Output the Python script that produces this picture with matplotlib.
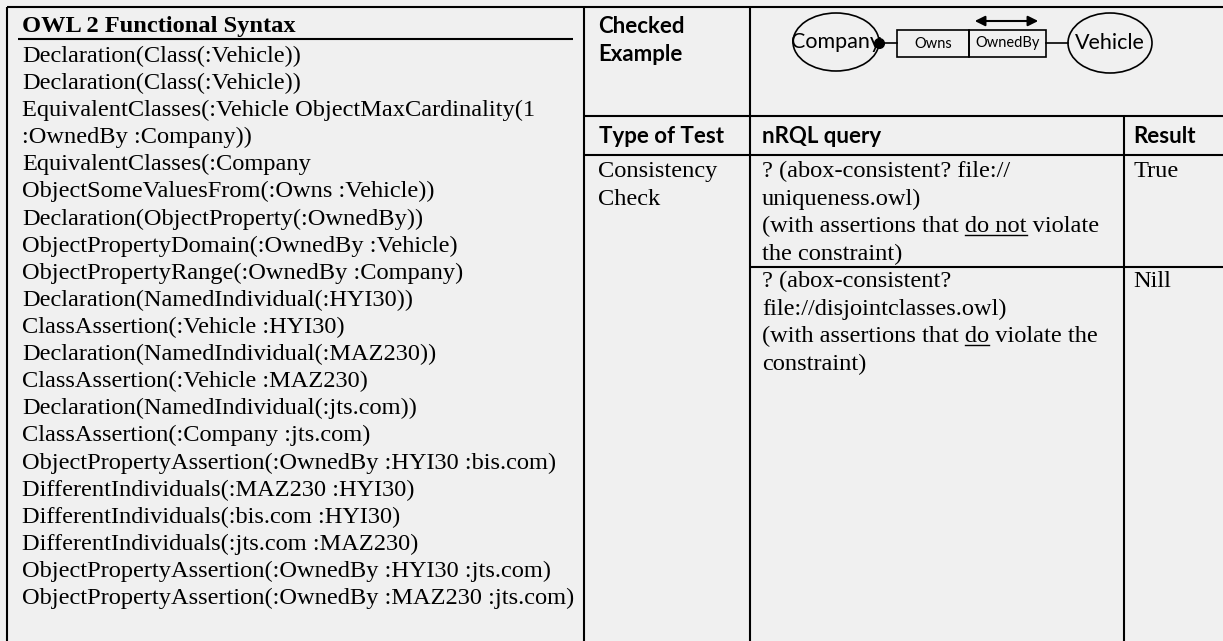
import matplotlib.pyplot as plt
from matplotlib.patches import Ellipse, Rectangle, FancyArrowPatch

# table content
owl_header = "OWL 2 Functional Syntax"
owl_lines = [
    "Declaration(Class(:Vehicle))",
    "Declaration(Class(:Vehicle))",
    "EquivalentClasses(:Vehicle ObjectMaxCardinality(1",
    ":OwnedBy :Company))",
    "EquivalentClasses(:Company",
    "ObjectSomeValuesFrom(:Owns :Vehicle))",
    "Declaration(ObjectProperty(:OwnedBy))",
    "ObjectPropertyDomain(:OwnedBy :Vehicle)",
    "ObjectPropertyRange(:OwnedBy :Company)",
    "Declaration(NamedIndividual(:HYI30))",
    "ClassAssertion(:Vehicle :HYI30)",
    "Declaration(NamedIndividual(:MAZ230))",
    "ClassAssertion(:Vehicle :MAZ230)",
    "Declaration(NamedIndividual(:jts.com))",
    "ClassAssertion(:Company :jts.com)",
    "ObjectPropertyAssertion(:OwnedBy :HYI30 :bis.com)",
    "DifferentIndividuals(:MAZ230 :HYI30)",
    "DifferentIndividuals(:bis.com :HYI30)",
    "DifferentIndividuals(:jts.com :MAZ230)",
    "ObjectPropertyAssertion(:OwnedBy :HYI30 :jts.com)",
    "ObjectPropertyAssertion(:OwnedBy :MAZ230 :jts.com)",
]
checked_label = ["Checked", "Example"]
col_headers = ["Type of Test", "nRQL query", "Result"]
test_type = ["Consistency", "Check"]
# (prefix, underlined part, suffix)
query_ok = [
    ("? (abox-consistent? file://", "", ""),
    ("uniqueness.owl)", "", ""),
    ("(with assertions that ", "do not", " violate"),
    ("the constraint)", "", ""),
]
query_bad = [
    ("? (abox-consistent?", "", ""),
    ("file://disjointclasses.owl)", "", ""),
    ("(with assertions that ", "do", " violate the"),
    ("constraint)", "", ""),
]
results = ["True", "Nill"]
diagram_classes = ["Company", "Vehicle"]
diagram_roles = ["Owns", "OwnedBy"]

SERIF = "Liberation Serif"
SANS = "Lato"
FS = 17.6
LW = 1.5

fig = plt.figure(figsize=(12.23, 6.41), dpi=100, facecolor="#f0f0f0")
ax = fig.add_axes([0, 0, 1, 1])
ax.set_xlim(0, 1223)
ax.set_ylim(641, 0)
ax.axis("off")
ax.set_facecolor("#f0f0f0")
renderer = fig.canvas.get_renderer()


def hline(y, x0, x1):
    ax.plot([x0, x1], [y, y], color="black", lw=LW, solid_capstyle="butt")


def vline(x, y0, y1):
    ax.plot([x, x], [y0, y1], color="black", lw=LW, solid_capstyle="butt")


def width(s, **kw):
    t = ax.text(0, 0, s, **kw)
    bb = t.get_window_extent(renderer)
    t.remove()
    return bb.width


# grid lines
hline(7, 7, 1223)
vline(7, 7, 641)
hline(39, 18, 573)
vline(584, 7, 641)
vline(750, 7, 641)
hline(116, 584, 1223)
hline(155, 584, 1223)
vline(1124, 116, 641)
hline(267, 750, 1223)

# left column
ax.text(22, 32, owl_header, family=SERIF, fontsize=FS, fontweight="bold")
for i, line in enumerate(owl_lines):
    ax.text(22, 62 + 27.1 * i, line, family=SERIF, fontsize=FS)

# bold headers
hdr = dict(family=SANS, fontsize=16, fontweight="bold")
ax.text(598, 33, checked_label[0], **hdr)
ax.text(598, 61, checked_label[1], **hdr)
ax.text(599, 143, col_headers[0], **hdr)
ax.text(762, 143, col_headers[1], **hdr)
ax.text(1133, 143, col_headers[2], **hdr)

# body
ax.text(598, 177, test_type[0], family=SERIF, fontsize=FS)
ax.text(598, 204.7, test_type[1], family=SERIF, fontsize=FS)
ax.text(1133, 177, results[0], family=SERIF, fontsize=FS)
ax.text(1133, 287, results[1], family=SERIF, fontsize=FS)

serif = dict(family=SERIF, fontsize=FS)
for base, rows in [(177, query_ok), (287, query_bad)]:
    for i, (pre, ul, post) in enumerate(rows):
        y = base + 27.6 * i
        ax.text(762, y, pre + ul + post, **serif)
        if ul:
            x0 = 762 + width(pre + ul[0], **serif) - width(ul[0], **serif)
            x1 = 762 + width(pre + ul, **serif)
            ax.plot([x0, x1], [y + 3, y + 3], color="black", lw=1.0)

# diagram
for (cx, cy, w, h), name in zip([(836, 42, 86, 58), (1110, 43, 84, 60)], diagram_classes):
    ax.add_patch(Ellipse((cx, cy), w, h, fill=False, ec="black", lw=1.2))
    ax.text(cx, cy, name, family=SANS, fontsize=15.5, ha="center", va="center")

for (x0, x1), name in zip([(897, 969), (969, 1046)], diagram_roles):
    ax.add_patch(Rectangle((x0, 30), x1 - x0, 27, fill=False, ec="black", lw=1.2))
    ax.text((x0 + x1) / 2, 43.5, name, family=SANS, fontsize=10.5, ha="center", va="center")

ax.plot([879, 897], [43, 43], color="black", lw=1.2)
ax.plot([1046, 1068], [43, 43], color="black", lw=1.2)
ax.plot([879], [43], "o", color="black", ms=7)
ax.add_patch(FancyArrowPatch((972, 21), (1041, 21), arrowstyle="<|-|>",
                             mutation_scale=15, color="black", lw=1.5))

fig.savefig("out.png", dpi=100, facecolor="#f0f0f0")
